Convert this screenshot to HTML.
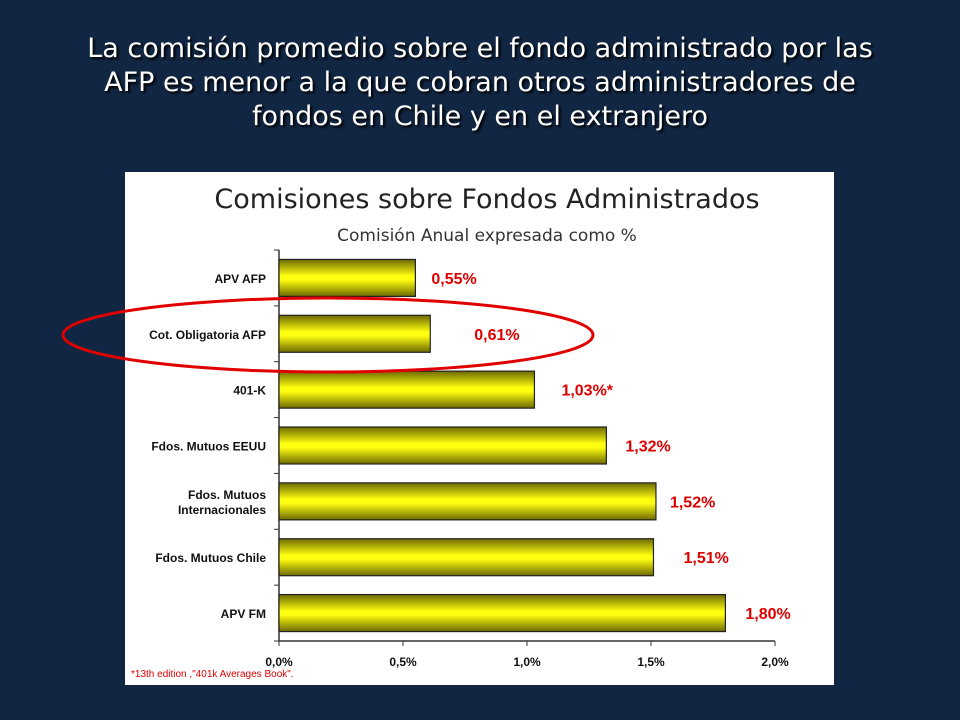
<!DOCTYPE html>
<html><head><meta charset="utf-8"><style>
body{margin:0;width:960px;height:720px;background:#112642;overflow:hidden;font-family:"Liberation Sans",sans-serif}
#title{position:absolute;left:0;top:32px;width:960px;text-align:center;color:#fff;font-family:"DejaVu Sans","Liberation Sans",sans-serif;font-size:27px;line-height:34px;text-shadow:2px 2px 2px #000}
svg{position:absolute;left:0;top:0}
</style></head><body>
<div id="title">La comisión promedio sobre el fondo administrado por las<br>AFP es menor a la que cobran otros administradores de<br>fondos en Chile y en el extranjero</div>
<svg id="c" width="960" height="720"></svg>
<script>
const categories=["APV AFP","Cot. Obligatoria AFP","401-K","Fdos. Mutuos EEUU","Fdos. Mutuos|Internacionales","Fdos. Mutuos Chile","APV FM"];
const values=[0.55,0.61,1.03,1.32,1.52,1.51,1.80];
const valueLabels=["0,55%","0,61%","1,03%*","1,32%","1,52%","1,51%","1,80%"];
const ticks=[0,0.5,1,1.5,2];
const tickLabels=["0,0%","0,5%","1,0%","1,5%","2,0%"];
const labelOffsets=[16,44,27,19,14,30,20];
const NS="http://www.w3.org/2000/svg",s=document.getElementById('c');
function el(t,a,txt){const e=document.createElementNS(NS,t);for(const k in a)e.setAttribute(k,a[k]);if(txt!=null)e.textContent=txt;s.appendChild(e);return e;}
const x0=279,x1=775,yTop=250,yBot=641,band=(yBot-yTop)/categories.length;
const X=v=>x0+(x1-x0)*v/2;
const defs=el('defs',{});
defs.innerHTML='<linearGradient id="g" x1="0" y1="0" x2="0" y2="1"><stop offset="0" stop-color="#6e6a00"/><stop offset="0.45" stop-color="#ffff10"/><stop offset="0.55" stop-color="#ffff10"/><stop offset="1" stop-color="#6e6a00"/></linearGradient>';
let r=el('rect',{x:125,y:172,width:709,height:513,fill:'#fff'});

let t=el('text',{x:487,y:208,'text-anchor':'middle','font-size':27,fill:'#222','font-family':'DejaVu Sans,sans-serif'},'Comisiones sobre Fondos Administrados');

t=el('text',{x:487,y:241,'text-anchor':'middle','font-size':17,fill:'#333','font-family':'DejaVu Sans,sans-serif'},'Comisión Anual expresada como %');

let ax=el('line',{x1:x0,y1:yTop,x2:x0,y2:yBot,stroke:'#333','stroke-width':1.5});

ax=el('line',{x1:x0,y1:yBot,x2:x1,y2:yBot,stroke:'#333','stroke-width':1.5});

for(let i=0;i<=categories.length;i++){el('line',{x1:x0-5,x2:x0,y1:yTop+i*band,y2:yTop+i*band,stroke:'#333'});}
ticks.forEach((v,i)=>{el('line',{x1:X(v),x2:X(v),y1:yBot,y2:yBot+5,stroke:'#333'});
 const l=el('text',{x:X(v),y:666,'text-anchor':'middle','font-size':12,'font-weight':'bold',fill:'#111'},tickLabels[i]);
 });
categories.forEach((c,i)=>{const cy=yTop+band*(i+0.5);
 const b=el('rect',{x:x0,y:cy-18.5,width:X(values[i])-x0,height:37,fill:'url(#g)',stroke:'#222','stroke-width':1.2});
 
 const parts=c.split('|');
 parts.forEach((p,j)=>{const l=el('text',{x:266,y:cy+5+(j-(parts.length-1)/2)*15,'text-anchor':'end','font-size':12,'font-weight':'bold',fill:'#111'},p);
  });
 const v=el('text',{x:X(values[i])+labelOffsets[i],y:cy+6,'font-size':16,'font-weight':'bold',fill:'#e00000'},valueLabels[i]);
 
});
let e=el('ellipse',{cx:328,cy:335,rx:265,ry:37,fill:'none',stroke:'#e00000','stroke-width':3});

t=el('text',{x:131,y:677,'font-size':10,fill:'#e00000'},'*13th edition ,"401k Averages Book".');

</script>
</body></html>
